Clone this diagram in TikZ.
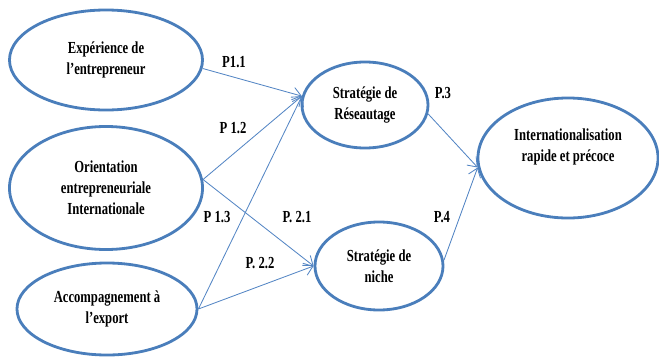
\documentclass[tikz,border=0pt]{standalone}
\usepackage{fontspec}
\setmainfont{Liberation Serif}
\newfontfamily\narrowfont[FakeStretch=0.75]{Liberation Serif}
\usetikzlibrary{shapes.geometric,arrows.meta}
\definecolor{ellblue}{RGB}{74,126,187}
\definecolor{lineblue}{RGB}{84,134,196}
\tikzset{
    concept/.style = {draw=ellblue, ellipse, line width=2pt,
        inner sep=0pt, align=center,
        font=\narrowfont\bfseries\fontsize{12}{15}\selectfont},
    link/.style = {draw=lineblue, line width=0.6pt,
        -{Straight Barb[length=6pt,width=9pt]}},
    plabel/.style = {font=\narrowfont\bfseries\fontsize{12}{15}\selectfont}
}

\begin{document}
\begin{tikzpicture}[x=0.025cm, y=-0.025cm]
        \useasboundingbox (0,0) rectangle (659,362);
        % antecedents
        \node [concept, minimum width=4.825cm, minimum height=2.5cm] (exp) at (106,60) {Expérience de\\ l’entrepreneur};
        \node [concept, minimum width=4.825cm, minimum height=3.075cm] (ori) at (106,188) {Orientation\\ entrepreneuriale\\ Internationale};
        \node [concept, minimum width=4.5cm, minimum height=2.3cm] (acc) at (107,309) {Accompagnement à\\ l’export};
        % strategies
        \node [concept, minimum width=3.15cm, minimum height=2.15cm] (res) at (365,105) {Stratégie de\\ Réseautage};
        \node [concept, minimum width=3.2cm, minimum height=2.2cm] (niche) at (379,266) {Stratégie de\\ niche};
        % outcome
        \node [concept, minimum width=4.5cm, minimum height=3cm] (intl) at (568,158) {Internationalisation\\ rapide et précoce\\[3pt]~};
        % paths
        \draw [link] (exp.-5) -- (res.172);
        \draw [link] (ori.5) -- (res.172);
        \draw [link] (acc.east) -- (res.172);
        \draw [link] (ori.5) -- (niche.west);
        \draw [link] (acc.east) -- (niche.west);
        \draw [link] (res.-8) -- (intl.186);
        \draw [link] (niche.5) -- (intl.186);
        % labels
        \node [plabel] (p11) at (234,62) {P1.1};
        \node [plabel] (p12) at (233,128) {P 1.2};
        \node [plabel] (p13) at (217,217) {P 1.3};
        \node [plabel] (p21) at (297,217) {P. 2.1};
        \node [plabel] (p22) at (260,263) {P. 2.2};
        \node [plabel] (p3) at (443,93) {P.3};
        \node [plabel] (p4) at (442,217) {P.4};
\end{tikzpicture}
\end{document}
